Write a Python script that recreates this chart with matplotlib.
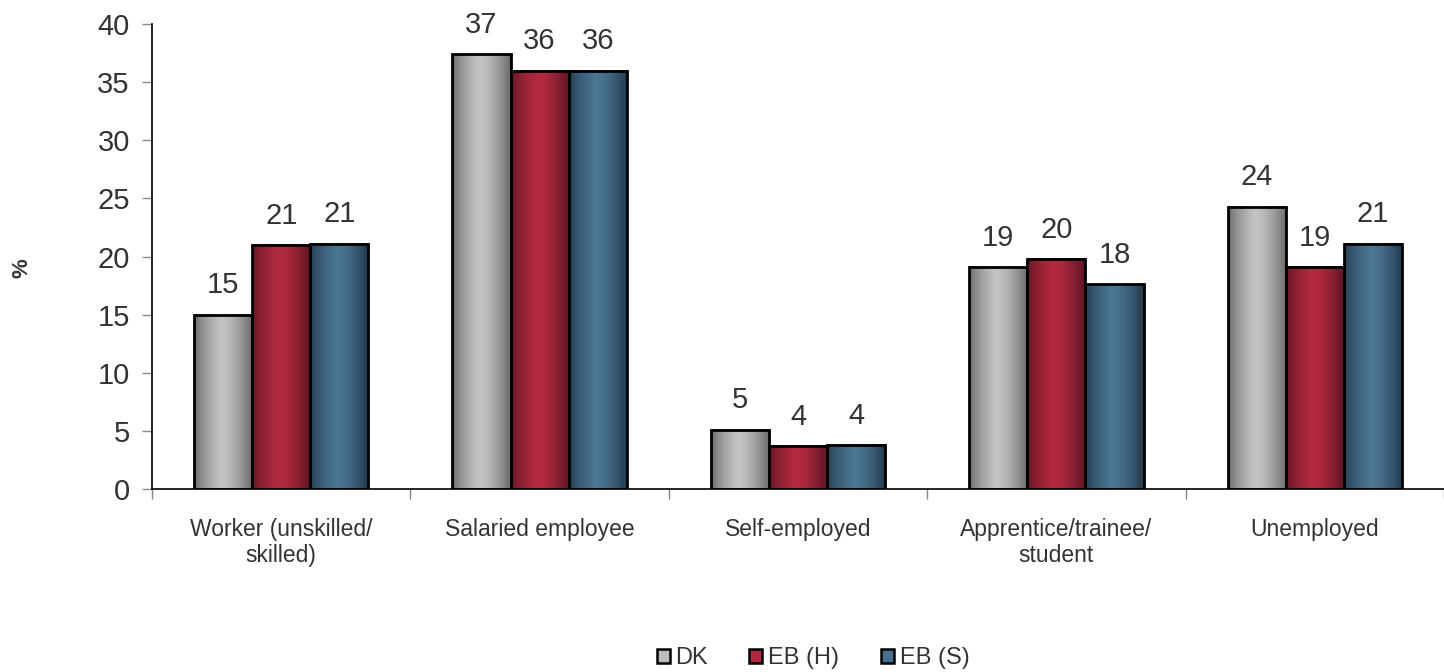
import numpy as np
import matplotlib
matplotlib.use('Agg')
from matplotlib import pyplot as plt
from matplotlib.patches import Rectangle, Patch

plt.rcParams['font.family'] = ['Liberation Sans', 'DejaVu Sans']

categories = ['Worker (unskilled/\nskilled)', 'Salaried employee', 'Self-employed',
              'Apprentice/trainee/\nstudent', 'Unemployed']
series_names = ['DK', 'EB (H)', 'EB (S)']
dk = [15.0, 37.4, 5.1, 19.1, 24.3]
eb_h = [21.0, 36.0, 3.7, 19.8, 19.1]
eb_s = [21.1, 36.0, 3.8, 17.6, 21.1]
labels_dk = [15, 37, 5, 19, 24]
labels_h = [21, 36, 4, 20, 19]
labels_s = [21, 36, 4, 18, 21]

# cylinder-like colour ramps (edge, centre, edge)
ramps = [('#5e5e5e', '#c4c4c4', '#6a6a6a'),
         ('#5a1522', '#b42a40', '#5a1522'),
         ('#223748', '#4b7694', '#22384a')]
mid_colors = ['#bdbdbd', '#b02a3f', '#48708e']

text_col = '#333333'

fig = plt.figure(figsize=(14.44, 6.72), dpi=100)
ax = fig.add_axes([152 / 1444, 1 - 489 / 672, 1 - 152 / 1444, (489 - 24) / 672])

width = 0.225
values = [dk, eb_h, eb_s]
labels = [labels_dk, labels_h, labels_s]
x = np.arange(len(categories))


def ramp_image(c_edge, c_mid, c_edge2, n=64):
    c0 = np.array(matplotlib.colors.to_rgb(c_edge))
    c1 = np.array(matplotlib.colors.to_rgb(c_mid))
    c2 = np.array(matplotlib.colors.to_rgb(c_edge2))
    t = np.linspace(0, 1, n)
    img = np.zeros((1, n, 3))
    for i, tt in enumerate(t):
        if tt < 0.45:
            f = (tt / 0.45) ** 0.6
            img[0, i] = c0 + (c1 - c0) * f
        else:
            f = ((tt - 0.45) / 0.55) ** 1.6
            img[0, i] = c1 + (c2 - c1) * f
    return img


for s in range(3):
    img = ramp_image(*ramps[s])
    for i in range(len(categories)):
        x0 = x[i] + (s - 1.5) * width
        h = values[s][i]
        ax.imshow(img, extent=(x0, x0 + width, 0, h), aspect='auto', zorder=2,
                  interpolation='bilinear')
        ax.add_patch(Rectangle((x0, 0), width, h, facecolor='none',
                               edgecolor='black', linewidth=2, zorder=3))
        ax.annotate(str(labels[s][i]), (x0 + width / 2, h), xytext=(0, 11),
                    textcoords='offset points', ha='center', va='bottom',
                    fontsize=21, color=text_col)

ax.set_xlim(-0.5, 4.5 - 19 / 262)
ax.set_ylim(0, 40)
ax.set_yticks(range(0, 41, 5))
ax.tick_params(axis='y', labelsize=21, labelcolor=text_col, color='#888888',
               length=7, width=1, pad=9)

ax.set_xticks(np.arange(-0.5, 4.6, 1.0))
ax.set_xticklabels([''] * 6)
ax.set_xticks(x, minor=True)
ax.set_xticklabels(categories, minor=True, fontsize=16.5, color=text_col,
                   linespacing=1.15)
ax.tick_params(axis='x', which='major', color='#888888', length=7, width=1)
ax.tick_params(axis='x', which='minor', length=0, pad=21)

for sp in ['top', 'right']:
    ax.spines[sp].set_visible(False)
ax.spines['left'].set_linewidth(1.2)
ax.spines['bottom'].set_linewidth(1.2)

fig.text(22 / 1444, 1 - 268 / 672, '%', rotation=90, ha='center', va='center',
         fontsize=16, fontweight='bold', color=text_col)

handles = [Patch(facecolor=mid_colors[i], edgecolor='black', linewidth=1.8,
                 label=series_names[i]) for i in range(3)]
fig.legend(handles=handles, loc='center', bbox_to_anchor=(813 / 1444, 1 - 658 / 672),
           ncol=3, frameon=False, fontsize=17, handlelength=0.55, handleheight=0.55,
           handletextpad=0.25, columnspacing=1.75, labelcolor=text_col)

fig.savefig('out.png', dpi=100)
